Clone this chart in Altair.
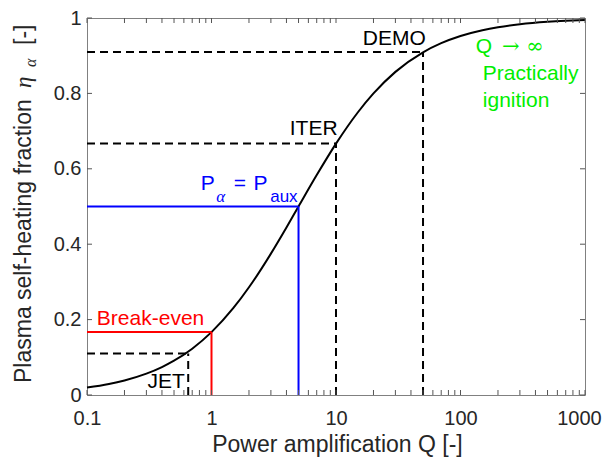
import altair as alt
import pandas as pd

# ---- data ----
Q_curve = [0.1, 0.15, 0.2, 0.3, 0.4, 0.5, 0.7, 1, 1.5, 2, 3, 4, 5, 7, 10, 15, 20,
           30, 50, 70, 100, 150, 200, 300, 500, 700, 1000]
eta_curve = [0.0196, 0.0291, 0.0385, 0.0566, 0.0741, 0.0909, 0.1228, 0.1667,
             0.2308, 0.2857, 0.375, 0.4444, 0.5, 0.5833, 0.6667, 0.75, 0.8,
             0.8571, 0.9091, 0.9333, 0.9524, 0.9677, 0.9756, 0.9836, 0.9901,
             0.9929, 0.995]

dashed_names = ["JET", "ITER", "DEMO"]
dashed_Q = [0.65, 10, 50]
dashed_eta = [0.11, 0.667, 0.91]

solid_names = ["Break-even", "P_alpha = P_aux"]
solid_Q = [1.0, 5.0]
solid_eta = [0.167, 0.5]
solid_colors = ["#ff0000", "#0000ff"]

x_major = [0.1, 1, 10, 100, 1000]
x_minor = [m * d for d in [0.1, 1, 10, 100] for m in range(2, 10)]
y_major = [0, 0.2, 0.4, 0.6, 0.8, 1.0]

Q_MIN, Q_MAX = 0.1, 1000
W, H = 498, 377
FONT = "Liberation Sans"

xs = alt.Scale(type="log", domain=[Q_MIN, Q_MAX], nice=False)
ys = alt.Scale(domain=[0, 1], nice=False, zero=False)
ax_x = alt.Axis(values=x_major, format="~g", title=None, labelPadding=13, tickSize=0,
                ticks=False, domain=False, grid=False, labelFont=FONT, labelFontSize=20,
                labelColor="#262626", labelFlush=False, labelOverlap=False, labelBound=False,
                labelOffset=alt.ExprRef("datum.value >= 1000 ? -6 : 0"))
ax_y = alt.Axis(values=y_major, format="~g", title=None, labelPadding=6, tickSize=0,
                ticks=False, domain=False, grid=False, labelFont=FONT, labelFontSize=20,
                labelColor="#262626", labelFlush=False, labelOverlap=False)

curve_df = pd.DataFrame({"Q": Q_curve, "eta": eta_curve})

def segments(names, qs, etas):
    rows = []
    for n, q, e in zip(names, qs, etas):
        rows.append({"name": n, "x": Q_MIN, "x2": q, "y": e, "y2": e})
        rows.append({"name": n, "x": q, "x2": q, "y": 0, "y2": e})
    return pd.DataFrame(rows)

dashed_df = segments(dashed_names, dashed_Q, dashed_eta)
solid_df = segments(solid_names, solid_Q, solid_eta)

curve = alt.Chart(curve_df).mark_line(color="black", strokeWidth=2, interpolate="monotone").encode(
    x=alt.X("Q:Q", scale=xs, axis=ax_x),
    y=alt.Y("eta:Q", scale=ys, axis=ax_y),
)

dashed = alt.Chart(dashed_df).mark_rule(color="black", strokeWidth=2, strokeDash=[8, 5]).encode(
    x=alt.X("x:Q", scale=xs, axis=ax_x), x2="x2:Q",
    y=alt.Y("y:Q", scale=ys, axis=ax_y), y2="y2:Q",
)

solid = alt.Chart(solid_df).mark_rule(strokeWidth=2).encode(
    x=alt.X("x:Q", scale=xs, axis=ax_x), x2="x2:Q",
    y=alt.Y("y:Q", scale=ys, axis=ax_y), y2="y2:Q",
    color=alt.Color("name:N", scale=alt.Scale(domain=solid_names, range=solid_colors), legend=None),
)

# inward ticks
TK = 5
xt_df = pd.DataFrame({"t": x_major + x_minor})
yt_df = pd.DataFrame({"t": y_major})
tick_col = "#555555"
xt_bot = alt.Chart(xt_df).mark_rule(color=tick_col, strokeWidth=1).encode(
    x=alt.X("t:Q", scale=xs, axis=ax_x), y=alt.value(H), y2=alt.value(H - TK))
xt_top = alt.Chart(xt_df).mark_rule(color=tick_col, strokeWidth=1).encode(
    x=alt.X("t:Q", scale=xs, axis=ax_x), y=alt.value(0), y2=alt.value(TK))
yt_left = alt.Chart(yt_df).mark_rule(color=tick_col, strokeWidth=1).encode(
    y=alt.Y("t:Q", scale=ys, axis=ax_y), x=alt.value(0), x2=alt.value(TK))
yt_right = alt.Chart(yt_df).mark_rule(color=tick_col, strokeWidth=1).encode(
    y=alt.Y("t:Q", scale=ys, axis=ax_y), x=alt.value(W), x2=alt.value(W - TK))

def label(text, q, e, color="black", size=21, align="left", baseline="alphabetic",
          font=FONT, style="normal"):
    df = pd.DataFrame({"Q": [q], "eta": [e], "t": [text]})
    return alt.Chart(df).mark_text(color=color, fontSize=size, align=align, baseline=baseline,
                                   font=font, fontStyle=style).encode(
        x=alt.X("Q:Q", scale=xs, axis=ax_x), y=alt.Y("eta:Q", scale=ys, axis=ax_y), text="t:N")

anns = [
    label("DEMO", 52.6, 0.928, align="right"),
    label("ITER", 10.3, 0.69, align="right"),
    label("Break-even", 0.12, 0.186, color="#ff0000"),
    label("JET", 0.61, 0.019, align="right"),
    label("P", 0.82, 0.544, color="#0000ff"),
    label("α", 1.09, 0.512, color="#0000ff", size=17, font="Liberation Serif", style="italic"),
    label("=", 1.69, 0.544, color="#0000ff", align="center"),
    label("P", 2.17, 0.544, color="#0000ff"),
    label("aux", 2.96, 0.512, color="#0000ff", size=17),
    label("Q", 132.8, 0.907, color="#00ee00"),
    label("→ ∞", 215, 0.907, color="#00ee00", font="DejaVu Serif"),
    label("Practically", 151, 0.836, color="#00ee00"),
    label("ignition", 151, 0.764, color="#00ee00"),
]

# axis titles
def ptext(text, x, y, size=23, angle=0, align="center", font=FONT, style="normal", color="#262626"):
    df = pd.DataFrame({"t": [text]})
    kw = dict(fontSize=size, align=align, baseline="alphabetic", font=font,
              fontStyle=style, color=color)
    if angle:
        kw["angle"] = angle
    return alt.Chart(df).mark_text(**kw).encode(x=alt.value(x), y=alt.value(y), text="t:N")

titles = [
    ptext("Power amplification Q [-]", 250.5, 434),
    ptext("Plasma self-heating fraction", -56, 365, angle=270, align="left"),
    ptext("η", -56, 70, angle=270, align="left", font="Liberation Serif", style="italic"),
    ptext("α", -51, 49, size=16, angle=270, align="left", font="Liberation Serif", style="italic"),
    ptext("[-]", -56, 27, angle=270, align="left"),
]

chart = alt.layer(curve, dashed, solid, xt_bot, xt_top, yt_left, yt_right, *anns, *titles).properties(
    width=W, height=H,
    autosize=alt.AutoSizeParams(type="none"),
    padding={"left": 79, "top": 10, "right": 17, "bottom": 66},
).configure_view(stroke="#808080", strokeWidth=1)

chart.save("out.html", embed_options={"renderer": "svg", "actions": False})
